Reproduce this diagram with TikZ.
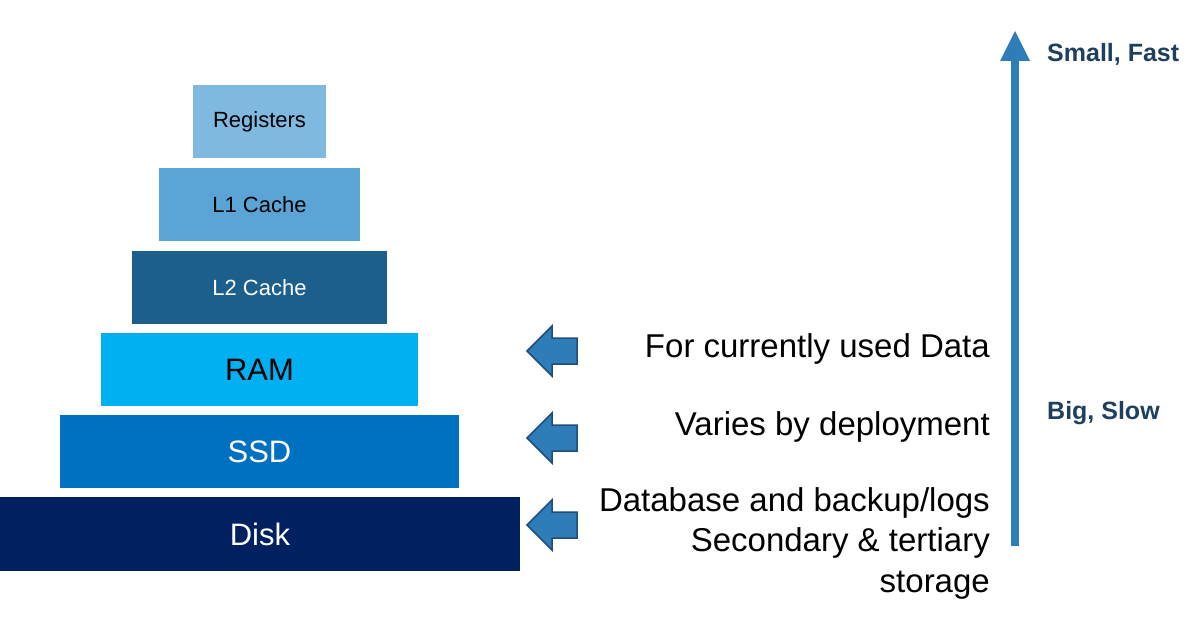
\documentclass[tikz,border=0pt]{standalone}
\usepackage{fontspec}
\setmainfont{Liberation Sans}
\definecolor{cReg}{HTML}{7FB9E0}
\definecolor{cLone}{HTML}{5BA4D6}
\definecolor{cLtwo}{HTML}{1C5F8C}
\definecolor{cRam}{HTML}{00B0F0}
\definecolor{cSsd}{HTML}{0070C0}
\definecolor{cDisk}{HTML}{002060}
\definecolor{cArr}{HTML}{2E7DB8}
\definecolor{cArrE}{HTML}{1F4E79}
\definecolor{cLab}{HTML}{1F3F5F}
\begin{document}
\begin{tikzpicture}[x=1pt,y=-1pt,
 note/.style={anchor=east,align=right,inner sep=0pt,font=\fontsize{33}{40.5}\selectfont},
 small/.style={font=\fontsize{22}{24}\selectfont},
 big/.style={font=\fontsize{31}{34}\selectfont},
 lab/.style={anchor=west,inner sep=0pt,font=\bfseries\fontsize{25}{28}\selectfont,text=cLab},
 blk/.style={fill=cArr,draw=cArrE,line width=1.5pt,line join=miter}]
\useasboundingbox (0,0) rectangle (1195,626);
\fill[cReg] (193,85) rectangle (326,158);
\node[small] (reg) at (259.5,121.5) {Registers};
\fill[cLone] (159,168) rectangle (360,241);
\node[small] (l1) at (259.5,204.5) {L1 Cache};
\fill[cLtwo] (132,251) rectangle (387,324);
\node[small,white] (l2) at (259.5,287.5) {L2 Cache};
\fill[cRam] (101,333) rectangle (418,406);
\node[big] (ram) at (259.5,369.5) {RAM};
\fill[cSsd] (60,415) rectangle (459,488);
\node[big,white] (ssd) at (259.5,451.5) {SSD};
\fill[cDisk] (0,497) rectangle (520,571);
\node[big,white] (disk) at (260,534) {Disk};
\foreach \yy in {351,438,525}{
 \draw[blk] (527,\yy) -- (552,{\yy-25}) -- (552,{\yy-13}) -- (577,{\yy-13}) -- (577,{\yy+13}) -- (552,{\yy+13}) -- (552,{\yy+25}) -- cycle;}
\node[note] (n1) at (990,349) {For currently used Data};
\node[note] (n2) at (990,427) {Varies by deployment};
\node[note] (n3) at (990,543) {Database and backup/logs\\Secondary \& tertiary\\storage};
\coordinate (bot) at (1015,546);
\draw[cArr,line width=8pt] (bot) -- (1015,60);
\fill[cArr] (1000,61) -- (1015,31) -- (1030,61) -- cycle;
\node[lab] (sf) at (1047,54) {Small, Fast};
\node[lab] (bs) at (1047,413) {Big, Slow};
\end{tikzpicture}
\end{document}
